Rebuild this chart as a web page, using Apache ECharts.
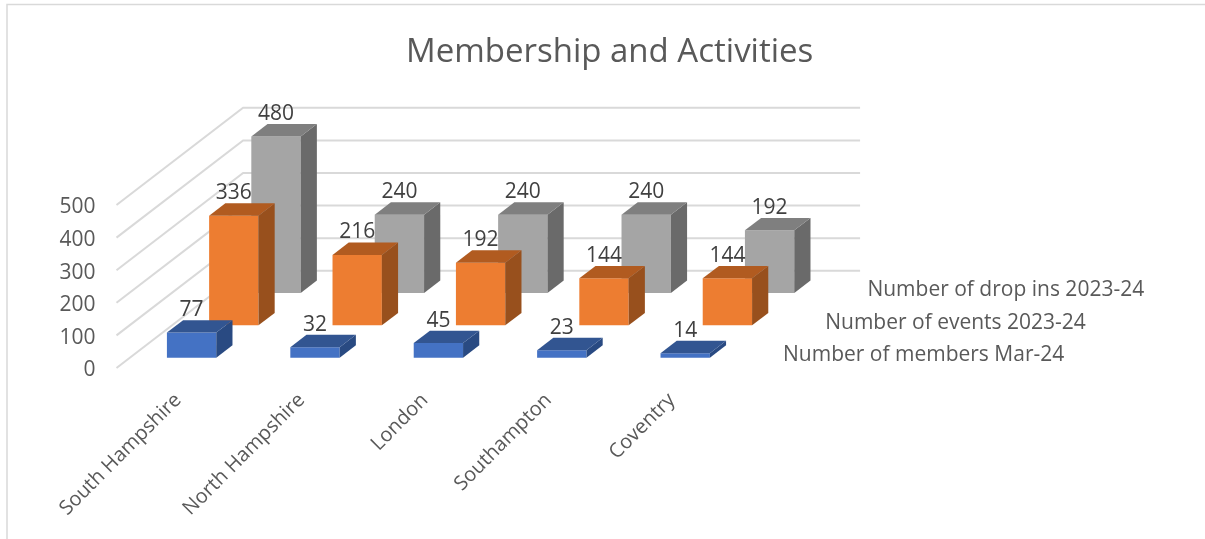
<!DOCTYPE html>
<html>
<head>
<meta charset="utf-8">
<style>
    html,body{margin:0;padding:0;background:#fff;}
    #chart{width:1205px;height:539px;}
</style>
<script src="https://cdn.jsdelivr.net/npm/echarts@6/dist/echarts.min.js"></script>
</head>
<body>
<div id="chart"></div>
<script>
const categories=["South Hampshire","North Hampshire","London","Southampton","Coventry"];
const members=[77,32,45,23,14];
const events=[336,216,192,144,144];
const dropIns=[480,240,240,240,192];
const valueTicks=[0,100,200,300,400,500];
const rowNames=["Number of members Mar-24","Number of events 2023-24","Number of drop ins 2023-24"];

const font="'Open Sans'";
const rowStep=[42.2,-32.4];   // shift per depth row
const barDepth=[16.2,-12.4];  // how far a bar's top/side go back
const rowStart=[13.4,-10.3];  // first row away from the front edge
const barShare=0.4;

const palette=[
    {front:"#4472c4",top:"#325591",side:"#294a82"},
    {front:"#ed7d31",top:"#b15b20",side:"#98501d"},
    {front:"#a5a5a5",top:"#7f7f7f",side:"#6a6a6a"}
];

const renderBar=(row)=>(params,api)=>{
    const cat=api.value(0);
    const base=api.coord([cat,0]);
    const head=api.coord([cat,api.value(1)]);
    const w=api.size([1,0])[0]*barShare;
    const ox=rowStart[0]+rowStep[0]*row;
    const oy=rowStart[1]+rowStep[1]*row;
    const l=base[0]+ox-w/2, r=l+w, b=base[1]+oy, t=head[1]+oy;
    const dx=barDepth[0], dy=barDepth[1];
    const c=palette[row];
    const children=[
        {type:"polygon",shape:{points:[[l,b],[r,b],[r,t],[l,t]]},style:{fill:c.front}},
        {type:"polygon",shape:{points:[[r,b],[r+dx,b+dy],[r+dx,t+dy],[r,t]]},style:{fill:c.side}},
        {type:"polygon",shape:{points:[[l,t],[r,t],[r+dx,t+dy],[l+dx,t+dy]]},style:{fill:c.top}},
        {type:"text",z2:10,style:{text:String(api.value(1)),x:(l+r)/2,y:t+dy-10,align:"center",verticalAlign:"middle",
            font:"21px "+font,fill:"#404040"}}
    ];
    if(params.dataIndex===categories.length-1){
        const box=params.coordSys;
        children.push({type:"text",style:{text:rowNames[row],x:box.x+box.width+49.5+rowStep[0]*row,y:box.y+box.height-13+rowStep[1]*row,
            align:"left",verticalAlign:"middle",font:"21px "+font,fill:"#595959"}});
    }
    return {type:"group",children:children};
};

const renderWall=(params,api)=>{
    const p=api.coord([0,api.value(0)]);
    const box=params.coordSys;
    const backX=rowStep[0]*3, backY=rowStep[1]*3;
    return {type:"polyline",shape:{points:[[box.x,p[1]],[box.x+backX,p[1]+backY],[box.x+box.width+backX,p[1]+backY]]},
        style:{fill:"none",stroke:"#d9d9d9",lineWidth:2}};
};

const rows=[members,events,dropIns];

const option={
    animation:false,
    backgroundColor:"#fff",
    title:{text:"Membership and Activities",left:401,top:31,
        textStyle:{fontFamily:font,fontSize:33,fontWeight:"normal",color:"#595959"}},
    grid:{left:116.5,top:205,width:617,height:163},
    xAxis:{type:"category",data:categories,
        axisLine:{show:false},axisTick:{show:false},
        axisLabel:{rotate:45,margin:29,interval:0,fontFamily:font,fontSize:20,color:"#595959"}},
    yAxis:{type:"value",min:0,max:500,interval:100,
        axisLine:{show:false},axisTick:{show:false},splitLine:{show:false},
        axisLabel:{margin:21,formatter:"{t|{value}}",
            rich:{t:{fontFamily:font,fontSize:21,color:"#595959",padding:[5,0,0,0]}}}},
    graphic:[
        {type:"polyline",silent:true,shape:{points:[[7,539],[7,4.5],[1205,4.5]]},style:{fill:"none",stroke:"#d9d9d9",lineWidth:1.5}}
    ],
    series:[
        {type:"custom",renderItem:renderWall,data:valueTicks.map(v=>[v]),encode:{y:0},silent:true,z:1},
        // back row first so nearer rows cover it
        ...[2,1,0].map(row=>({
            type:"custom",
            name:rowNames[row],
            renderItem:renderBar(row),
            data:rows[row].map((v,i)=>[i,v]),
            encode:{x:0,y:1},
            clip:false,
            z:5-row
        }))
    ]
};

const chart=echarts.init(document.getElementById("chart"));
chart.setOption(option);
</script>
</body>
</html>
